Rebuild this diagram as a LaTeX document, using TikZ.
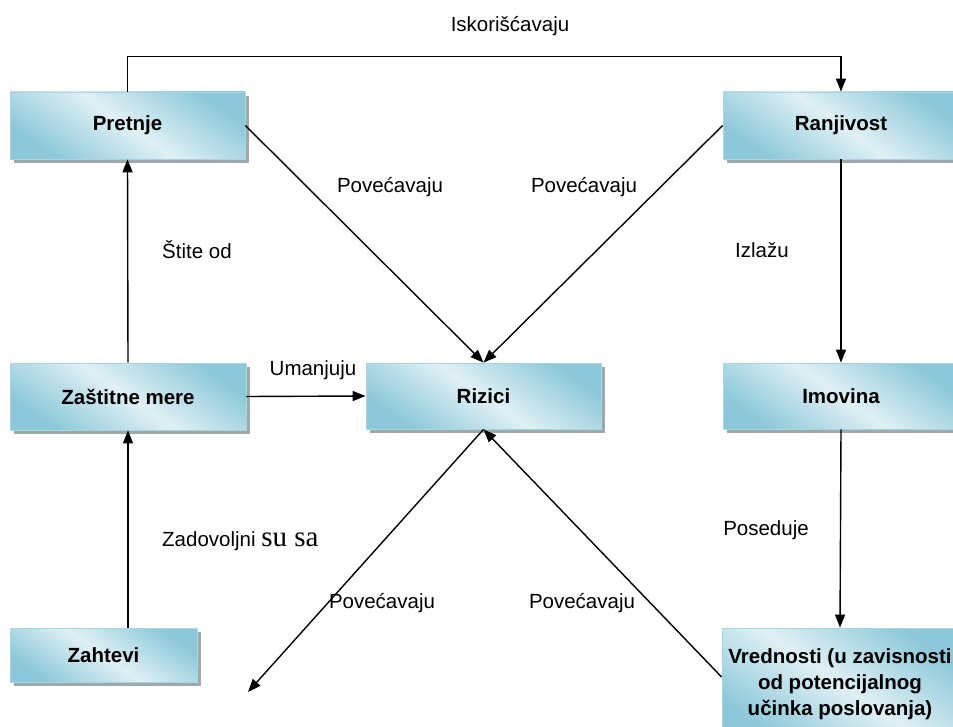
\documentclass[tikz,border=0pt]{standalone}
\usepackage{fontspec}
\setmainfont{Liberation Sans}
\newfontfamily\seriffam{Liberation Serif}
\usetikzlibrary{arrows.meta,shadows,calc}
\definecolor{boxdark}{HTML}{8CC8D9}
\definecolor{boxlight}{HTML}{E0F0F5}
\definecolor{boxedge}{HTML}{A6D6E2}
\definecolor{shadowgray}{HTML}{9EA9AC}
\tikzset{
  box/.style={draw=boxedge, line width=0.8pt,
    top color=boxdark, bottom color=boxdark, middle color=boxlight,
    shading angle=-35,
    drop shadow={shadow xshift=4pt, shadow yshift=-4pt, fill=shadowgray, opacity=1},
    inner sep=0pt, align=center,
    font=\bfseries\fontsize{20.5}{26}\selectfont},
  lbl/.style={font=\fontsize{20.5}{24}\selectfont, inner sep=0pt},
  arr/.style={line width=1.4pt, -{Triangle[length=13pt,width=10pt]}}
}
\begin{document}
\begin{tikzpicture}[x=1pt,y=-1pt]
\useasboundingbox (0,0) rectangle (953,727);
\clip (0,0) rectangle (953,727);
\fill[white] (0,0) rectangle (953,727);
% boxes
\node[box, minimum width=235pt, minimum height=67pt] (pretnje) at (127.5,125.5) {Pretnje};
\node[box, minimum width=236pt, minimum height=67pt] (ranj) at (841,125.5) {Ranjivost};
\node[box, minimum width=236pt, minimum height=67pt] (zast) at (128,396.5) {Zaštitne mere};
\node[box, minimum width=235pt, minimum height=66pt] (riz) at (483.5,396) {Rizici};
\node[box, minimum width=236pt, minimum height=66pt] (imov) at (841,396) {Imovina};
\node[box, minimum width=187pt, minimum height=54pt] (zaht) at (103.5,655) {Zahtevi};
\node[box, minimum width=236pt, minimum height=112pt] (vred) at (840,684)
  {Vrednosti (u zavisnosti\\od potencijalnog\\učinka poslovanja)};
\coordinate (free) at (248,692);
% connectors
\draw[arr] (pretnje.north) -- ++(0,-35) -| (ranj.north);
\draw[arr] (pretnje.east) -- (riz.north);
\draw[arr] (ranj.west) -- (riz.north);
\draw[arr] (ranj.south) -- (imov.north);
\draw[arr] (imov.south) -- (vred.north);
\draw[arr] (zast.north) -- (pretnje.south);
\draw[arr] (zaht.north -| zast.south) -- (zast.south);
\draw[arr] (zast.east) -- (riz.west);
\draw[arr] (riz.south) -- (free);
\draw[arr] ($(vred.west)+(0,-7)$) -- (riz.south);
% labels
\node[lbl] (l1) at (510,26) {Iskorišćavaju};
\node[lbl] (l2) at (390,187) {Povećavaju};
\node[lbl] (l3) at (584,187) {Povećavaju};
\node[lbl] (l4) at (197,250) {Štite od};
\node[lbl] (l5) at (762,250) {Izlažu};
\node[lbl] (l6) at (313,370) {Umanjuju};
\node[lbl, anchor=base west] (l7) at (162,546) {Zadovoljni {\seriffam\fontsize{29}{30}\selectfont su sa}};
\node[lbl] (l8) at (382,603) {Povećavaju};
\node[lbl] (l9) at (582,603) {Povećavaju};
\node[lbl] (l10) at (766,530) {Poseduje};
\end{tikzpicture}
\end{document}
